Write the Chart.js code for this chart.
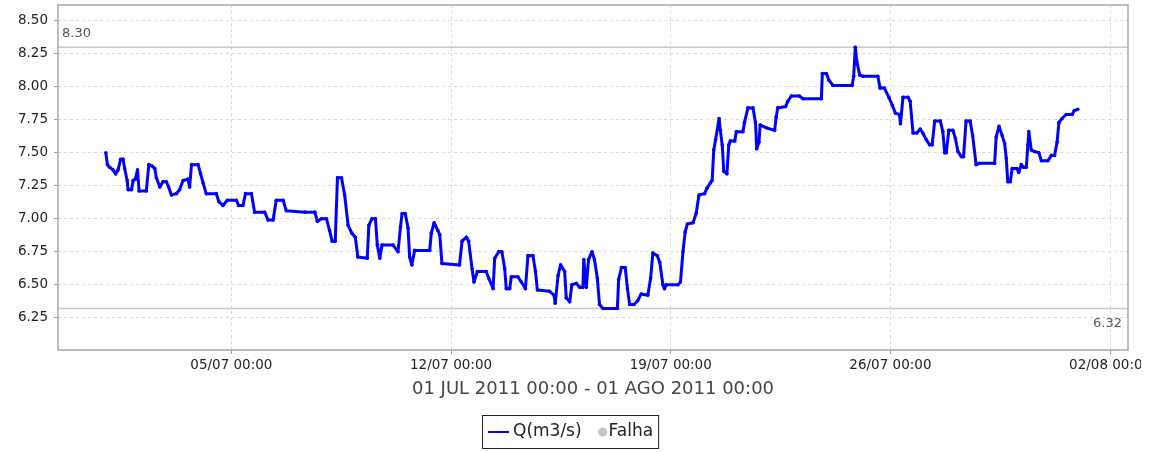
<!DOCTYPE html>
<html>
<head>
<meta charset="utf-8">
<script src="https://cdn.jsdelivr.net/npm/chart.js@4.4.1/dist/chart.umd.min.js"></script>
<style>
  html, body { margin: 0; padding: 0; background: #fff; }
  #wrap { width: 1164px; height: 452px; position: relative; }
</style>
</head>
<body>
<div id="wrap"><canvas id="chart"></canvas></div>
<script>
// days since 01 JUL 2011 00:00
const dayOffsets = [
  0.00,0.05,0.12,0.23,0.31,0.39,0.47,0.55,0.60,0.68,
  0.71,0.82,0.87,0.94,1.01,1.06,1.29,1.37,1.47,1.56,
  1.61,1.72,1.82,1.93,2.00,2.09,2.25,2.35,2.46,2.62,
  2.67,2.73,2.94,3.02,3.10,3.20,3.52,3.60,3.73,3.87,
  4.16,4.23,4.37,4.45,4.64,4.74,5.06,5.17,5.33,5.43,
  5.65,5.75,6.34,6.66,6.74,6.87,7.03,7.13,7.21,7.31,
  7.38,7.51,7.61,7.72,7.84,7.95,8.03,8.33,8.38,8.48,
  8.59,8.65,8.73,8.80,9.15,9.31,9.39,9.44,9.54,9.63,
  9.68,9.75,9.84,10.32,10.37,10.46,10.58,10.64,10.71,11.27,
  11.35,11.49,11.56,11.67,11.73,11.84,12.12,12.20,12.34,12.39,
  12.52,12.62,12.71,12.76,12.87,12.92,13.13,13.24,13.37,13.45,
  13.61,13.69,13.75,14.14,14.28,14.32,14.41,14.49,14.62,14.67,
  14.78,14.85,14.99,15.10,15.20,15.23,15.31,15.38,15.49,15.57,
  15.66,15.73,15.84,16.30,16.34,16.43,16.55,16.62,16.69,16.83,
  16.95,17.06,17.27,17.36,17.43,17.57,17.65,17.75,17.80,17.86,
  18.23,18.31,18.39,18.46,18.53,18.71,18.81,18.90,19.08,19.15,
  19.26,19.32,19.37,19.43,19.54,19.58,19.64,19.69,19.79,19.85,
  19.90,20.04,20.09,20.30,20.35,20.46,20.62,20.70,20.74,20.81,
  20.85,21.04,21.31,21.36,21.41,21.66,21.73,21.84,22.10,22.21,
  22.80,22.83,22.96,23.04,23.17,23.78,23.83,23.88,23.93,24.02,
  24.12,24.60,24.67,24.81,24.95,25.06,25.16,25.29,25.32,25.40,
  25.56,25.63,25.72,25.84,25.95,26.03,26.14,26.25,26.33,26.41,
  26.59,26.67,26.73,26.78,26.86,26.99,27.07,27.15,27.26,27.33,
  27.41,27.54,27.62,27.73,27.84,28.32,28.37,28.46,28.56,28.64,
  28.69,28.74,28.82,28.88,29.03,29.09,29.17,29.24,29.33,29.38,
  29.41,29.49,29.59,29.73,29.81,30.02,30.13,30.23,30.31,30.37,
  30.47,30.60,30.79,30.86,30.97
];
const flowValues = [
  7.50,7.41,7.39,7.37,7.34,7.37,7.45,7.45,7.38,7.29,
  7.22,7.22,7.29,7.30,7.37,7.21,7.21,7.41,7.40,7.38,
  7.31,7.24,7.28,7.28,7.24,7.18,7.19,7.22,7.29,7.30,
  7.24,7.41,7.41,7.34,7.27,7.19,7.19,7.13,7.10,7.14,
  7.14,7.10,7.10,7.19,7.19,7.05,7.05,6.99,6.99,7.14,
  7.14,7.06,7.05,7.05,6.98,7.00,7.00,6.91,6.83,6.83,
  7.31,7.31,7.18,6.95,6.89,6.86,6.71,6.70,6.95,7.00,
  7.00,6.80,6.70,6.80,6.80,6.75,6.94,7.04,7.04,6.93,
  6.71,6.65,6.76,6.76,6.89,6.97,6.91,6.88,6.66,6.65,
  6.83,6.86,6.83,6.62,6.52,6.60,6.60,6.55,6.47,6.70,
  6.75,6.75,6.62,6.47,6.47,6.56,6.56,6.52,6.47,6.72,
  6.72,6.60,6.46,6.45,6.42,6.36,6.57,6.65,6.60,6.40,
  6.37,6.50,6.51,6.48,6.48,6.69,6.48,6.69,6.75,6.69,
  6.55,6.35,6.32,6.32,6.54,6.63,6.63,6.47,6.35,6.35,
  6.38,6.43,6.42,6.55,6.74,6.72,6.67,6.50,6.47,6.50,
  6.50,6.52,6.75,6.90,6.96,6.97,7.04,7.18,7.19,7.23,
  7.27,7.29,7.52,7.60,7.76,7.67,7.56,7.36,7.34,7.56,
  7.59,7.59,7.66,7.66,7.73,7.84,7.84,7.73,7.53,7.58,
  7.71,7.69,7.67,7.77,7.84,7.85,7.89,7.93,7.93,7.91,
  7.91,8.10,8.10,8.05,8.01,8.01,8.08,8.30,8.19,8.09,
  8.08,8.08,7.99,7.99,7.92,7.86,7.80,7.79,7.72,7.92,
  7.92,7.89,7.65,7.65,7.68,7.65,7.60,7.56,7.56,7.74,
  7.74,7.66,7.50,7.50,7.67,7.67,7.61,7.51,7.47,7.47,
  7.74,7.74,7.63,7.41,7.42,7.42,7.62,7.70,7.63,7.57,
  7.46,7.28,7.28,7.38,7.38,7.35,7.41,7.39,7.39,7.56,
  7.66,7.52,7.51,7.50,7.44,7.44,7.48,7.48,7.58,7.73,
  7.76,7.79,7.79,7.82,7.83
];
const yTicks = [6.25, 6.50, 6.75, 7.00, 7.25, 7.50, 7.75, 8.00, 8.25, 8.50];
const xTicks = [4, 11, 18, 25, 32];
const xTickLabels = ['05/07 00:00', '12/07 00:00', '19/07 00:00', '26/07 00:00', '02/08 00:00'];
const refMax = 8.30;
const refMin = 6.32;
const seriesName = 'Q(m3/s)';
const failName = 'Falha';
const periodLabel = '01 JUL 2011 00:00 - 01 AGO 2011 00:00';

const tickFont = { family: 'DejaVu Sans', size: 13.5 };

// reference lines, plot frame, legend box
const extras = {
  id: 'extras',
  beforeDatasetsDraw(chart) {
    const { ctx, chartArea: a, scales: { y } } = chart;
    ctx.save();
    ctx.strokeStyle = '#c8c8c8';
    ctx.lineWidth = 1.5;
    [refMax, refMin].forEach(v => {
      const py = y.getPixelForValue(v);
      ctx.beginPath();
      ctx.moveTo(a.left, py);
      ctx.lineTo(a.right, py);
      ctx.stroke();
    });
    ctx.fillStyle = '#555';
    ctx.font = '13px "DejaVu Sans"';
    ctx.textBaseline = 'alphabetic';
    ctx.textAlign = 'left';
    ctx.fillText(refMax.toFixed(2), a.left + 4, y.getPixelForValue(refMax) - 10);
    ctx.textAlign = 'right';
    ctx.fillText(refMin.toFixed(2), a.right - 6, y.getPixelForValue(refMin) + 19);
    ctx.restore();
  },
  afterDraw(chart) {
    const { ctx, chartArea: a } = chart;
    ctx.save();
    ctx.strokeStyle = '#a8a8a8';
    ctx.lineWidth = 1.5;
    ctx.strokeRect(a.left, a.top, a.right - a.left, a.bottom - a.top);

    // legend
    ctx.font = '17px "DejaVu Sans"';
    ctx.textBaseline = 'middle';
    ctx.textAlign = 'left';
    const left = 482, cy = 432;
    ctx.strokeStyle = '#0000ff';
    ctx.lineWidth = 2;
    ctx.beginPath();
    ctx.moveTo(left + 6, cy);
    ctx.lineTo(left + 27, cy);
    ctx.stroke();
    ctx.fillStyle = '#222';
    const t1 = left + 31;
    ctx.fillText(seriesName, t1, cy);
    const cx = t1 + ctx.measureText(seriesName).width + 21;
    ctx.fillStyle = '#c4c4c4';
    ctx.beginPath();
    ctx.arc(cx, cy, 4.5, 0, Math.PI * 2);
    ctx.fill();
    ctx.fillStyle = '#222';
    const t2 = cx + 6;
    ctx.fillText(failName, t2, cy);
    const right = t2 + ctx.measureText(failName).width + 5;
    ctx.strokeStyle = '#222';
    ctx.lineWidth = 1;
    ctx.strokeRect(left + 0.5, 415.5, right - left, 33);

    // image is cut at the right like the original
    ctx.fillStyle = '#fff';
    ctx.fillRect(1141, 0, chart.width - 1141, chart.height);
    ctx.restore();
  }
};

new Chart(document.getElementById('chart'), {
  type: 'line',
  data: {
    datasets: [{
      label: seriesName,
      data: dayOffsets.map((d, i) => ({ x: d, y: flowValues[i] })),
      borderColor: '#0000ff',
      backgroundColor: '#0000ff',
      borderWidth: 3,
      borderJoinStyle: 'round',
      pointRadius: 1.8,
      pointBorderWidth: 0,
      pointBackgroundColor: '#0000ff',
      tension: 0,
      fill: false,
    }],
  },
  options: {
    animation: false,
    responsive: true,
    maintainAspectRatio: false,
    devicePixelRatio: 1,
    layout: { padding: { left: 0, right: 36, top: 5, bottom: 52 } },
    plugins: {
      legend: { display: false },
      tooltip: { enabled: false },
    },
    scales: {
      x: {
        type: 'linear',
        min: -1.524,
        max: 32.57,
        afterBuildTicks: scale => { scale.ticks = xTicks.map(v => ({ value: v })); },
        afterFit: scale => { scale.height = 50; },
        ticks: {
          autoSkip: false,
          maxRotation: 0,
          padding: 3,
          color: '#222',
          font: tickFont,
          callback: (v, i) => xTickLabels[i],
        },
        grid: {
          color: '#d9d9d9',
          tickLength: 4,
          tickColor: '#999',
          tickBorderDash: [],
        },
        border: { display: false, dash: [3, 3] },
        title: {
          display: true,
          text: periodLabel,
          color: '#444',
          font: { family: 'DejaVu Sans', size: 18 },
          padding: { top: 0, bottom: 0 },
        },
      },
      y: {
        min: 6.005,
        max: 8.62,
        afterBuildTicks: scale => { scale.ticks = yTicks.map(v => ({ value: v })); },
        afterFit: scale => {
          scale.width = 58;
          scale.paddingTop = 0;
          scale.paddingBottom = 0;
        },
        ticks: {
          padding: 6,
          color: '#222',
          font: tickFont,
          callback: v => v.toFixed(2),
        },
        grid: {
          color: '#d9d9d9',
          tickLength: 4,
          tickColor: '#999',
          tickBorderDash: [],
        },
        border: { display: false, dash: [3, 3] },
      },
    },
  },
  plugins: [extras],
});
</script>
</body>
</html>
